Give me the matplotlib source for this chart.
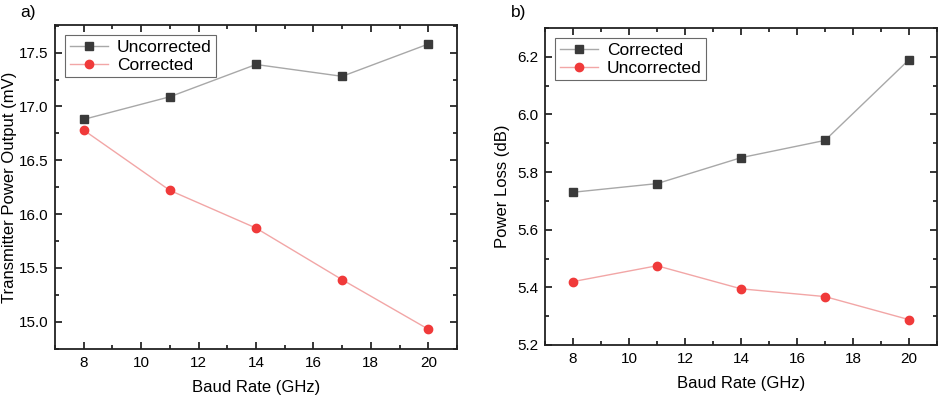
import matplotlib.pyplot as plt
from matplotlib.ticker import MultipleLocator

plt.rcParams['font.family'] = ['Liberation Sans', 'DejaVu Sans']

# data
baud_rate = [8, 11, 14, 17, 20]

# a) transmitter power output (mV)
power_uncorrected = [16.88, 17.09, 17.39, 17.28, 17.58]
power_corrected = [16.78, 16.22, 15.87, 15.39, 14.93]

# b) power loss (dB)
loss_corrected = [5.73, 5.76, 5.85, 5.91, 6.19]
loss_uncorrected = [5.42, 5.475, 5.395, 5.368, 5.288]

sq_color = '#3a3a3a'
sq_line = '#a8a8a8'
ci_color = '#f03a3a'
ci_line = '#f2a6a6'

fig = plt.figure(figsize=(9.41, 3.98), dpi=100)
ax1 = fig.add_axes([55 / 941, 1 - 349 / 398, 402 / 941, 324 / 398])
ax2 = fig.add_axes([545 / 941, 1 - 345 / 398, 392 / 941, 317 / 398])


def style_axis(ax, ymajor, yminor):
    ax.xaxis.set_major_locator(MultipleLocator(2))
    ax.xaxis.set_minor_locator(MultipleLocator(1))
    ax.yaxis.set_major_locator(MultipleLocator(ymajor))
    ax.yaxis.set_minor_locator(MultipleLocator(yminor))
    ax.tick_params(which='both', direction='in', top=True, right=True,
                   labeltop=False, labelright=False, labelsize=11, width=1.1)
    ax.tick_params(which='major', length=5, pad=5)
    ax.tick_params(which='minor', length=3)
    for s in ax.spines.values():
        s.set_linewidth(1.3)
        s.set_color('#222222')
    ax.set_xlabel('Baud Rate (GHz)', fontsize=12, labelpad=7)


# panel a
ax1.plot(baud_rate, power_uncorrected, color=sq_line, lw=1, marker='s', ms=6,
         mfc=sq_color, mec=sq_color, label='Uncorrected')
ax1.plot(baud_rate, power_corrected, color=ci_line, lw=1, marker='o', ms=6,
         mfc=ci_color, mec=ci_color, label='Corrected')
ax1.set_xlim(7, 21)
ax1.set_ylim(14.746, 17.757)
style_axis(ax1, 0.5, 0.25)
ax1.yaxis.set_major_formatter(plt.FormatStrFormatter('%.1f'))
ax1.set_ylabel('Transmitter Power Output (mV)', fontsize=12, labelpad=1)
leg1 = ax1.legend(loc='upper left', fontsize=12.5, frameon=True, fancybox=False,
                  edgecolor='#444444', borderaxespad=0.6, handlelength=2.2,
                  borderpad=0.25, labelspacing=0.15, handletextpad=0.5)
leg1.get_frame().set_linewidth(0.8)
fig.text(20 / 941, 1 - 12 / 398, 'a)', fontsize=12.5, va='center', ha='left')

# panel b
ax2.plot(baud_rate, loss_corrected, color=sq_line, lw=1, marker='s', ms=6,
         mfc=sq_color, mec=sq_color, label='Corrected')
ax2.plot(baud_rate, loss_uncorrected, color=ci_line, lw=1, marker='o', ms=6,
         mfc=ci_color, mec=ci_color, label='Uncorrected')
ax2.set_xlim(7, 21)
ax2.set_ylim(5.2, 6.30)
style_axis(ax2, 0.2, 0.1)
ax2.yaxis.set_major_formatter(plt.FormatStrFormatter('%.1f'))
ax2.set_ylabel('Power Loss (dB)', fontsize=12, labelpad=5)
leg2 = ax2.legend(loc='upper left', fontsize=12.5, frameon=True, fancybox=False,
                  edgecolor='#444444', borderaxespad=0.6, handlelength=2.2,
                  borderpad=0.25, labelspacing=0.15, handletextpad=0.5)
leg2.get_frame().set_linewidth(0.8)
fig.text(511 / 941, 1 - 12 / 398, 'b)', fontsize=12.5, va='center', ha='left')

plt.savefig('out.png', dpi=100)
